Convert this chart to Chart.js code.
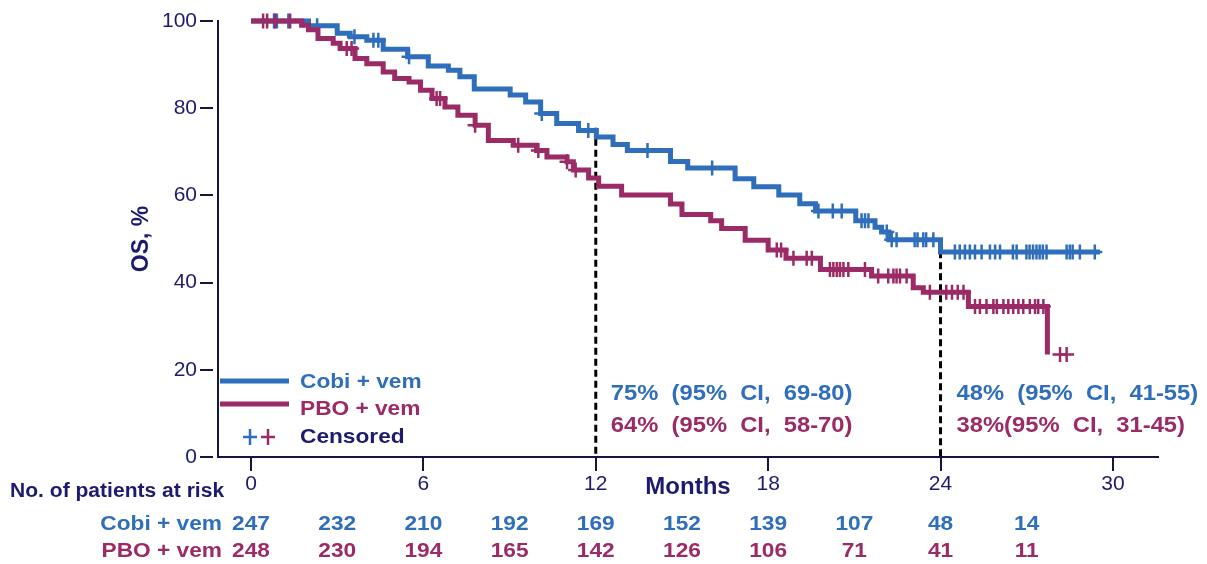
<!DOCTYPE html>
<html>
<head>
<meta charset="utf-8">
<script src="https://cdn.jsdelivr.net/npm/chart.js@4.4.1/dist/chart.umd.min.js"></script>
<style>
html, body { margin: 0; padding: 0; background: #fff; }
#wrap { width: 1207px; height: 564px; position: relative; }
</style>
</head>
<body>
<div id="wrap"><canvas id="myChart"></canvas></div>
<script>
// tick labels and risk table
const xTicks = [0, 6, 12, 18, 24, 30]
const riskMonths = [0, 3, 6, 9, 12, 15, 18, 21, 24, 27]
const cobiAtRisk = [247, 232, 210, 192, 169, 152, 139, 107, 48, 14]
const pboAtRisk = [248, 230, 194, 165, 142, 126, 106, 71, 41, 11]

// KM steps (month, OS %)
const cobiTimes = [0, 2.0, 3.0, 3.45, 4.03, 4.6, 5.45, 6.17, 6.87, 7.27, 7.77, 9.02, 9.56, 10.08, 10.64, 11.4, 12.02, 12.6, 13.1, 14.6, 15.2, 16.85, 17.5, 18.37, 19.1, 19.65, 21.05, 21.72, 21.95, 22.2, 24.0, 29.55]
const cobiSurv = [100, 98.9, 97.2, 96.4, 95.6, 93.5, 91.8, 89.7, 88.7, 87.2, 84.4, 83.0, 81.4, 78.8, 76.5, 74.9, 73.4, 71.7, 70.3, 67.8, 66.3, 63.8, 62.0, 60.1, 58.1, 56.4, 54.2, 52.7, 51.6, 49.8, 47.0, 47.0]
const pboTimes = [0, 1.76, 2.0, 2.33, 2.86, 3.1, 3.62, 4.03, 4.6, 5.0, 5.5, 5.9, 6.3, 6.75, 7.2, 7.8, 8.26, 9.13, 9.94, 10.3, 11.0, 11.22, 11.75, 12.1, 12.9, 14.6, 15.0, 16.0, 16.38, 17.2, 18.0, 18.62, 19.82, 21.6, 23.05, 23.4, 24.97, 27.72]
const pboSurv = [100, 99.0, 98.0, 96.0, 94.9, 93.7, 91.4, 90.2, 88.3, 86.8, 86.0, 84.1, 82.2, 80.3, 78.4, 76.1, 72.6, 71.5, 70.3, 68.8, 67.7, 65.8, 64.0, 62.1, 60.1, 58.0, 55.6, 54.2, 52.4, 49.7, 47.5, 45.6, 43.0, 41.5, 38.8, 37.8, 34.5, 23.5]

// censored times
const cobiCensored = [0.8, 0.9, 1.3, 2.3, 3.6, 4.26, 4.43, 5.5, 10.12, 11.74, 13.8, 16.05, 19.75, 20.25, 20.56, 21.25, 21.37, 21.49, 22.13, 22.3, 22.47, 23.1, 23.2, 23.4, 23.5, 23.75, 24.5, 24.67, 24.85, 25.02, 25.2, 25.43, 25.72, 25.9, 26.07, 26.52, 26.65, 26.99, 27.1, 27.22, 27.34, 27.45, 27.56, 27.69, 28.39, 28.5, 28.6, 28.85, 29.37]
const pboCensored = [0.42, 0.56, 0.84, 1.36, 3.33, 3.5, 6.46, 6.58, 7.8, 9.3, 10.0, 11.0, 11.3, 18.3, 18.45, 18.88, 19.34, 19.52, 20.15, 20.27, 20.39, 20.5, 20.62, 20.79, 21.37, 21.83, 22.18, 22.36, 22.47, 22.59, 22.82, 23.63, 24.2, 24.4, 24.6, 24.8, 25.2, 25.37, 25.6, 25.84, 25.96, 26.19, 26.36, 26.53, 26.71, 26.88, 27.11, 27.29, 27.4, 27.58, 28.16, 28.39]

// landmark lines
const dashMonths = [12, 24]
const dashTops = [75.5, 49.7]

const blue = '#2F6EBA'
const magenta = '#9A2B66'
const navy = '#1E1B6E'
const axisColor = '#151540'
const family = "'Liberation Sans', Arial, sans-serif"

function survAt(times, surv, t) {
    let s = surv[0]
    for (let i = 0; i < times.length; i++) {
        if (times[i] <= t) s = surv[i]
    }
    return s
}

const toPoints = (xs, ys) => xs.map((x, i) => ({ x, y: ys[i] }))
const censorPoints = (cens, times, surv) => cens.map(t => ({ x: t, y: survAt(times, surv, t) }))

function stretchText(ctx, str, x, y, font, color, align) {
    ctx.save()
    ctx.font = font
    ctx.fillStyle = color
    ctx.textBaseline = 'middle'
    ctx.textAlign = align || 'left'
    ctx.translate(x, y)
    ctx.scale(1.08, 1)
    ctx.fillText(str, 0, 0)
    ctx.restore()
}

// legend, landmark text and risk table
const extras = {
    id: 'extras',
    afterDraw(chart) {
        const ctx = chart.ctx
        const xs = chart.scales.x
        ctx.save()
        ctx.lineWidth = 5
        ctx.strokeStyle = blue
        ctx.beginPath(); ctx.moveTo(220, 381); ctx.lineTo(289, 381); ctx.stroke()
        ctx.strokeStyle = magenta
        ctx.beginPath(); ctx.moveTo(220, 404); ctx.lineTo(289, 404); ctx.stroke()
        ctx.lineWidth = 2.5
        ;[[250, blue], [268, magenta]].forEach(([cx, c]) => {
            ctx.strokeStyle = c
            ctx.beginPath()
            ctx.moveTo(cx - 7, 437); ctx.lineTo(cx + 7, 437)
            ctx.moveTo(cx, 429); ctx.lineTo(cx, 445)
            ctx.stroke()
        })
        ctx.restore()

        const legFont = `bold 21px ${family}`
        stretchText(ctx, 'Cobi + vem', 300, 382, legFont, blue)
        stretchText(ctx, 'PBO + vem', 300, 409, legFont, magenta)
        stretchText(ctx, 'Censored', 300, 437, legFont, navy)

        const noteFont = `bold 22px ${family}`
        stretchText(ctx, '75%  (95%  CI,  69-80)', xs.getPixelForValue(12) + 15, 394, noteFont, blue)
        stretchText(ctx, '64%  (95%  CI,  58-70)', xs.getPixelForValue(12) + 15, 426, noteFont, magenta)
        stretchText(ctx, '48%  (95%  CI,  41-55)', xs.getPixelForValue(24) + 16, 394, noteFont, blue)
        stretchText(ctx, '38%(95%  CI,  31-45)', xs.getPixelForValue(24) + 16, 426, noteFont, magenta)

        stretchText(ctx, 'No. of patients at risk', 10, 492, `bold 19.5px ${family}`, navy)
        const rowFont = `bold 21px ${family}`
        stretchText(ctx, 'Cobi + vem', 222, 524, rowFont, blue, 'right')
        stretchText(ctx, 'PBO + vem', 222, 551, rowFont, magenta, 'right')
        riskMonths.forEach((m, i) => {
            const px = xs.getPixelForValue(m)
            stretchText(ctx, String(cobiAtRisk[i]), px, 524, rowFont, blue, 'center')
            stretchText(ctx, String(pboAtRisk[i]), px, 551, rowFont, magenta, 'center')
        })
    }
}

const stepLine = (data, color) => ({
    data, showLine: true, stepped: true, borderColor: color, borderWidth: 5,
    pointRadius: 0, fill: false, clip: false
})
const censorSet = (data, color) => ({
    data, showLine: false, pointStyle: 'cross', pointRadius: 7.5, pointBorderWidth: 2.5,
    borderColor: color, backgroundColor: color, clip: false
})

const datasets = [
    stepLine(toPoints(pboTimes, pboSurv), magenta),
    censorSet(censorPoints(pboCensored, pboTimes, pboSurv), magenta),
    stepLine(toPoints(cobiTimes, cobiSurv), blue),
    censorSet(censorPoints(cobiCensored, cobiTimes, cobiSurv), blue)
]
dashMonths.forEach((m, i) => {
    datasets.push({
        data: [{ x: m, y: dashTops[i] }, { x: m, y: 0 }],
        showLine: true, borderColor: '#000', borderWidth: 3, borderDash: [7, 4],
        pointRadius: 0, clip: false
    })
})

const canvas = document.getElementById('myChart')
new Chart(canvas, {
    type: 'scatter',
    data: { datasets },
    options: {
        responsive: true,
        maintainAspectRatio: false,
        animation: false,
        devicePixelRatio: 1,
        layout: { padding: { top: 21, right: 49, left: 0, bottom: 0 } },
        plugins: { legend: { display: false }, tooltip: { enabled: false } },
        scales: {
            x: {
                type: 'linear', min: -1.15, max: 31.57,
                afterBuildTicks: s => { s.ticks = xTicks.map(v => ({ value: v })) },
                afterFit: s => { s.height = 107 },
                grid: { drawOnChartArea: false, color: axisColor, lineWidth: 2, tickLength: 14 },
                border: { color: axisColor, width: 2 },
                ticks: { color: navy, font: { family, size: 21 }, padding: 1, maxRotation: 0, autoSkip: false },
                title: { display: true, text: 'Months', color: navy, font: { family, size: 24, weight: 'bold' }, padding: { top: 0, bottom: 62 } }
            },
            y: {
                min: 0, max: 100,
                ticks: { stepSize: 20, color: navy, font: { family, size: 21 }, padding: 3 },
                afterFit: s => { s.width = 218 },
                grid: { drawOnChartArea: false, color: axisColor, lineWidth: 2, tickLength: 18, tickBorderDash: [13, 5] },
                border: { color: axisColor, width: 2 },
                title: { display: true, text: 'OS, %', color: navy, font: { family, size: 23, weight: 'bold' }, padding: { top: 128, bottom: 0 } }
            }
        }
    },
    plugins: [extras]
})
</script>
</body>
</html>
